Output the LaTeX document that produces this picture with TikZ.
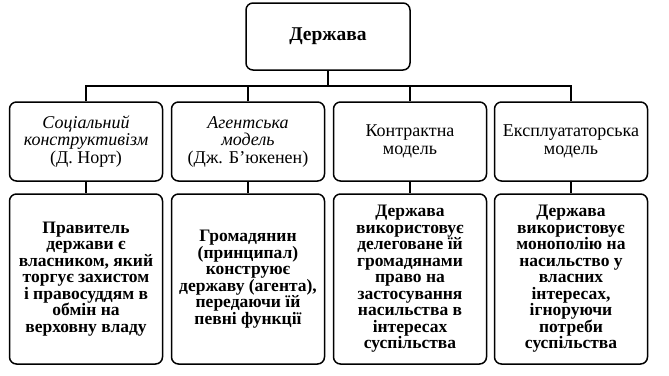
\documentclass[tikz,border=0pt]{standalone}
\usepackage{fontspec}
\setmainfont{Liberation Serif}
\begin{document}
\begin{tikzpicture}[x=1pt,y=-1pt,
  box/.style={draw, line width=1.5pt, rounded corners=7pt, align=center, inner sep=0pt,
    minimum width=153pt},
  head/.style={box, minimum height=79pt, font=\fontsize{18}{17.5}\selectfont},
  body/.style={box, minimum height=170pt, font=\bfseries\fontsize{17.5}{16.5}\selectfont},
  link/.style={line width=1.5pt}]
\useasboundingbox (0,0) rectangle (669,375);
\node[box, minimum width=164pt, minimum height=67pt, font=\bfseries\fontsize{19.5}{18}\selectfont] (top) at (328,36.5) {Держава};

\node[head] (a1) at (86,141.5) {\textit{Соціальний}\\\textit{конструктивізм}\\(Д. Норт)};
\node[head] (a2) at (248,141.5) {\textit{Агентська}\\\textit{модель}\\(Дж. Б’юкенен)};
\node[head] (a3) at (410,141.5) {Контрактна\\модель};
\node[head] (a4) at (571,141.5) {Експлуататорська\\модель};

\node[body] (b1) at (86,279) {Правитель\\держави є\\власником, який\\торгує захистом\\і правосуддям в\\обмін на\\верховну владу};
\node[body] (b2) at (248,279) {Громадянин\\(принципал)\\конструює\\державу (агента),\\передаючи їй\\певні функції};
\node[body] (b3) at (410,279) {Держава\\використовує\\делеговане їй\\громадянами\\право на\\застосування\\насильства в\\інтересах\\суспільства};
\node[body] (b4) at (571,279) {Держава\\використовує\\монополію на\\насильство у\\власних\\інтересах,\\ігноруючи\\потреби\\суспільства};

\path (top.south) ++(0,15) coordinate (hub);
\draw[link] (top.south) -- (hub);
\draw[link] (a1.north) |- (hub) -| (a4.north);
\draw[link] (a2.north) -- (a2.north |- hub);
\draw[link] (a3.north) -- (a3.north |- hub);
\draw[link] (a1.south) -- (b1.north);
\draw[link] (a2.south) -- (b2.north);
\draw[link] (a3.south) -- (b3.north);
\draw[link] (a4.south) -- (b4.north);
\end{tikzpicture}
\end{document}
